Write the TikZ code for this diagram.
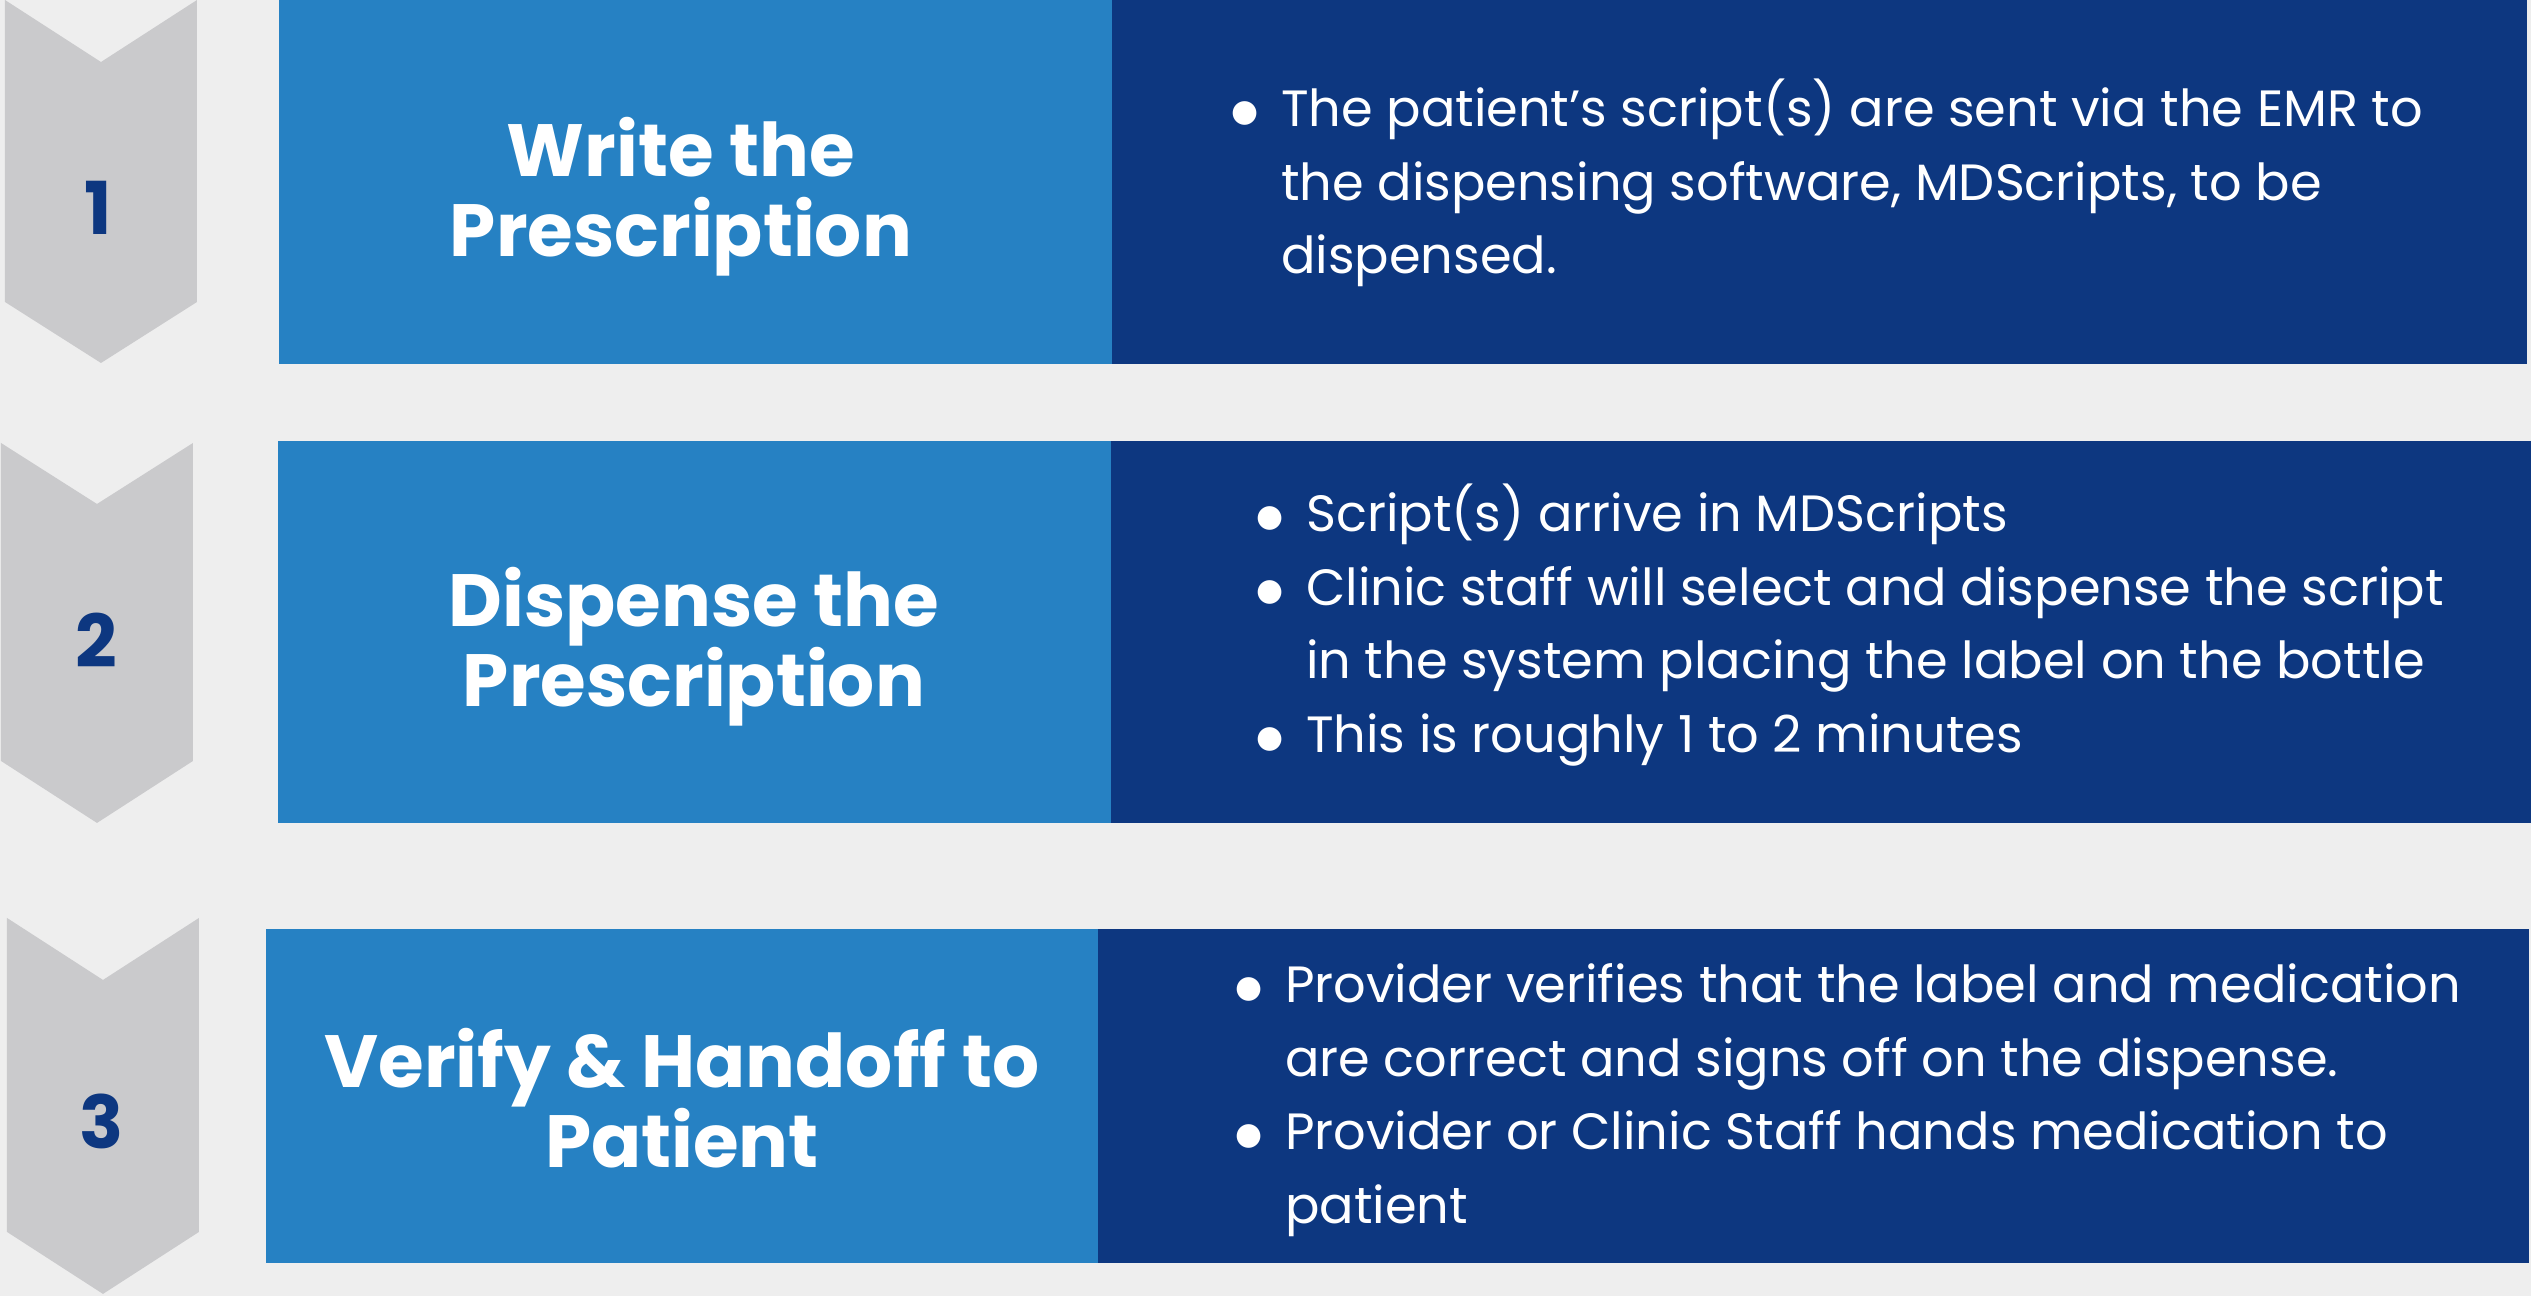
\documentclass[tikz,border=0pt]{standalone}
\usepackage{fontspec}
\setmainfont{Poppins}
\newfontfamily\symfont{DejaVu Sans}
\usepackage{tikz}
\usetikzlibrary{positioning}

\definecolor{pagebg}{HTML}{EEEEEE}
\definecolor{chevgrey}{HTML}{CACACC}
\definecolor{lightblue}{HTML}{2681C3}
\definecolor{darkblue}{HTML}{0D3780}

\newcommand{\bul}{\llap{\raisebox{5pt}{\symfont\fontsize{31}{31}\selectfont ●}\hspace{22.5pt}}}

\tikzset{
    chev/.style={fill=chevgrey},
    stepnum/.style={inner sep=0pt, text=darkblue, font=\fontsize{73}{80}\selectfont\bfseries},
    headbox/.style={fill=lightblue, inner sep=0pt, anchor=north west},
    bodybox/.style={fill=darkblue, inner sep=0pt, anchor=north west},
    headtext/.style={inner sep=0pt, text=white, align=center, font=\fontsize{74}{80}\selectfont\bfseries},
    bodytext/.style={inner sep=0pt, text=white, anchor=base west, font=\fontsize{51}{73.5}\selectfont}
}

\begin{document}
\begin{tikzpicture}[x=1pt, y=-1pt]
    \fill[pagebg] (0,0) rectangle (2531,1296);

    \fill[chev] (5,0) -- (101,62) -- (197,0) -- (197,302) -- (101,363) -- (5,302) -- cycle;
    \fill[chev] (1,443) -- (97,504) -- (193,443) -- (193,761) -- (97,823) -- (1,761) -- cycle;
    \fill[chev] (7,918) -- (103,980) -- (199,918) -- (199,1232) -- (103,1294) -- (7,1232) -- cycle;
    \node[stepnum] (n1) at (98,208) {1};
    \node[stepnum] (n2) at (96,640) {2};
    \node[stepnum] (n3) at (102,1122) {3};

    \node[headbox, minimum width=833pt, minimum height=364pt] (h1) at (279,0) {};
    \node[bodybox, minimum width=1415pt, minimum height=364pt] (b1) at (1112,0) {};
    \node[headbox, minimum width=833pt, minimum height=382pt] (h2) at (278,441) {};
    \node[bodybox, minimum width=1420pt, minimum height=382pt] (b2) at (1111,441) {};
    \node[headbox, minimum width=832pt, minimum height=334pt] (h3) at (266,929) {};
    \node[bodybox, minimum width=1431pt, minimum height=334pt] (b3) at (1098,929) {};

    \node[headtext] (t1) at (681,197) {Write the\\Prescription};
    \node[headtext] (t2) at (694,647) {Dispense the\\Prescription};
    \node[headtext] (t3) at (682,1098) {Verify \& Handoff to\\Patient};

    \node[bodytext] (l1) at (1281,127) {\begin{tabular}[t]{@{}l@{}}
        \bul The patient’s script(s) are sent via the EMR to\\
        the dispensing software, MDScripts, to be\\
        dispensed.
    \end{tabular}};
    \node[bodytext] (l2) at (1306,532) {\begin{tabular}[t]{@{}l@{}}
        \bul Script(s) arrive in MDScripts\\
        \bul Clinic staff will select and dispense the script\\
        in the system placing the label on the bottle\\
        \bul This is roughly 1 to 2 minutes
    \end{tabular}};
    \node[bodytext] (l3) at (1285,1003) {\begin{tabular}[t]{@{}l@{}}
        \bul Provider verifies that the label and medication\\
        are correct and signs off on the dispense.\\
        \bul Provider or Clinic Staff hands medication to\\
        patient
    \end{tabular}};
\end{tikzpicture}
\end{document}
